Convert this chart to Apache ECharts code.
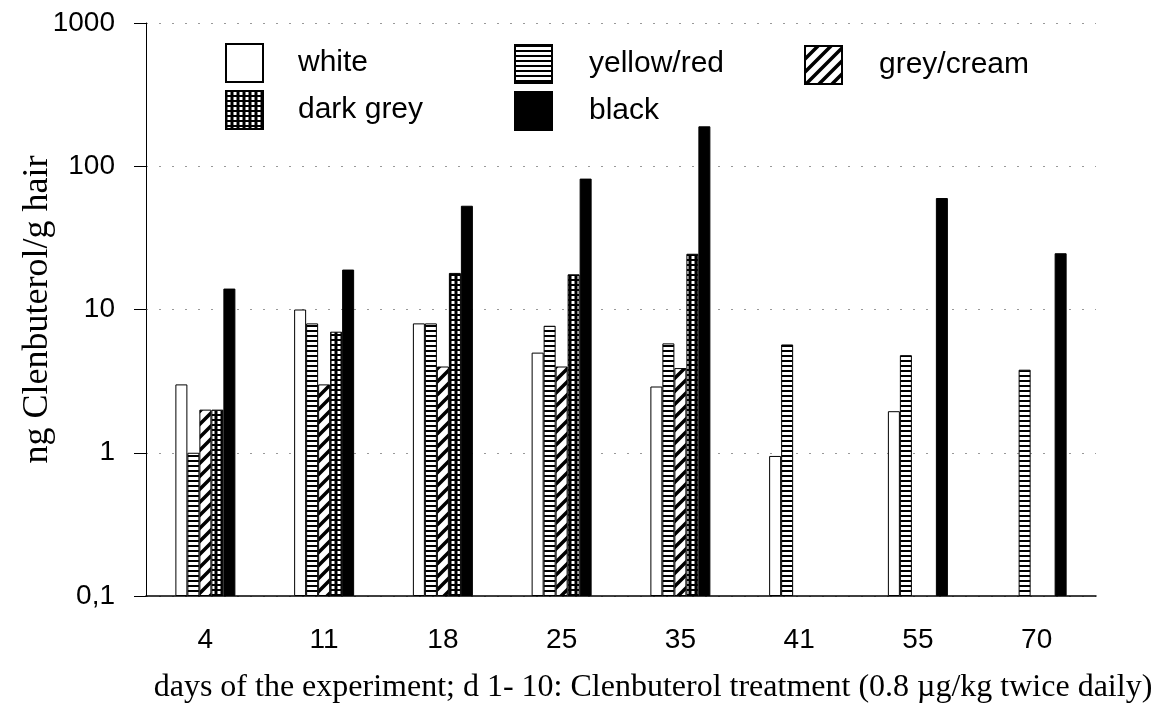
<!DOCTYPE html>
<html>
<head>
<meta charset="utf-8">
<title>Clenbuterol in hair</title>
<script src="https://cdn.jsdelivr.net/npm/echarts@6/dist/echarts.min.js"></script>
<style>
  html, body { margin: 0; padding: 0; background: #fff; }
  #chart { width: 1161px; height: 715px; }
</style>
</head>
<body>
<div id="chart"></div>
<script>
// days of the experiment
const days = ['4', '11', '18', '25', '35', '41', '55', '70'];
// ng Clenbuterol / g hair, per hair colour (null = no bar)
const white = [3, 10, 8, 5, 2.9, 0.95, 1.95, null];
const yellowRed = [1, 8, 8, 7.7, 5.8, 5.7, 4.8, 3.8];
const greyCream = [2, 3, 4, 4, 3.9, null, null, null];
const darkGrey = [2, 7, 18, 17.6, 24.5, null, null, null];
const black = [14, 19, 53, 82, 190, null, 60, 24.7];
const yTicks = [0.1, 1, 10, 100, 1000];

function makePattern(w, h, draw) {
  const c = document.createElement('canvas');
  c.width = w;
  c.height = h;
  const ctx = c.getContext('2d');
  ctx.fillStyle = '#fff';
  ctx.fillRect(0, 0, w, h);
  draw(ctx);
  return { image: c, repeat: 'repeat' };
}

// horizontal stripes
const stripes = makePattern(8, 5, ctx => {
  ctx.fillStyle = '#000';
  ctx.fillRect(0, 0, 8, 2);
});
// "/" hatching
const hatch = makePattern(13, 13, ctx => {
  ctx.strokeStyle = '#000';
  ctx.lineWidth = 3.5;
  ctx.beginPath();
  ctx.moveTo(-2, 15); ctx.lineTo(15, -2);
  ctx.moveTo(-2, 2); ctx.lineTo(2, -2);
  ctx.moveTo(11, 15); ctx.lineTo(15, 11);
  ctx.stroke();
});
// black grid with small white cells
const grid = makePattern(6, 5, ctx => {
  ctx.fillStyle = '#000';
  ctx.fillRect(0, 0, 6, 5);
  ctx.fillStyle = '#fff';
  ctx.fillRect(1.5, 1, 3, 3);
});

const names = ['white', 'yellow/red', 'grey/cream', 'dark grey', 'black'];
const values = [white, yellowRed, greyCream, darkGrey, black];
const fills = ['#fff', stripes, hatch, grid, '#000'];

const chart = echarts.init(document.getElementById('chart'));

const legendPos = [
  { left: 225, top: 43 },
  { left: 514, top: 44 },
  { left: 804, top: 45 },
  { left: 225, top: 90 },
  { left: 514, top: 91 }
];
const textPad = [30, 32, 32, 30, 32];

const legends = names.map((n, i) => ({
  data: [n],
  left: legendPos[i].left,
  top: legendPos[i].top,
  padding: 0,
  orient: 'horizontal',
  itemWidth: 37,
  itemHeight: 38,
  icon: 'rect',
  selectedMode: false,
  textStyle: {
    fontFamily: 'Liberation Sans, Arial, sans-serif',
    fontSize: 30,
    color: '#000',
    padding: [0, 0, 0, textPad[i]]
  }
}));

const series = names.map((n, i) => ({
  name: n,
  type: 'bar',
  barWidth: 12,
  barGap: '0%',
  data: values[i],
  itemStyle: {
    color: fills[i],
    borderColor: '#000',
    borderWidth: 1
  },
  emphasis: { disabled: true }
}));

chart.setOption({
  animation: false,
  backgroundColor: '#fff',
  legend: legends,
  grid: { left: 146, top: 23, right: 65, bottom: 119, outerBoundsMode: 'none' },
  xAxis: {
    type: 'category',
    data: days,
    name: 'days of the experiment; d 1- 10: Clenbuterol treatment (0.8 µg/kg twice daily)',
    nameLocation: 'middle',
    nameGap: 76,
    nameTextStyle: {
      fontFamily: 'Liberation Serif, Times New Roman, serif',
      fontSize: 32,
      color: '#000',
      padding: [0, 0, 0, 64]
    },
    axisLine: { lineStyle: { color: '#000', width: 1.5 } },
    axisTick: { alignWithLabel: true, length: 13, lineStyle: { color: '#000' } },
    axisLabel: {
      margin: 30,
      fontFamily: 'Liberation Sans, Arial, sans-serif',
      fontSize: 28,
      color: '#000'
    },
    splitLine: { show: false }
  },
  yAxis: {
    type: 'log',
    logBase: 10,
    min: yTicks[0],
    max: yTicks[yTicks.length - 1],
    startValue: yTicks[0],
    name: 'ng Clenbuterol/g hair',
    nameLocation: 'middle',
    nameGap: 90,
    nameMoveOverlap: false,
    nameTextStyle: {
      fontFamily: 'Liberation Serif, Times New Roman, serif',
      fontSize: 36,
      color: '#000'
    },
    axisLine: { show: true, lineStyle: { color: '#000', width: 1 } },
    axisTick: { show: true, length: 12, lineStyle: { color: '#000' } },
    minorTick: { show: false },
    axisLabel: {
      margin: 31,
      fontFamily: 'Liberation Sans, Arial, sans-serif',
      fontSize: 28,
      color: '#000',
      formatter: v => (v < 1 ? v.toFixed(1).replace('.', ',') : String(Math.round(v)))
    },
    splitLine: {
      show: true,
      lineStyle: { color: '#999', type: [2, 11], width: 1 }
    }
  },
  series: series
});
</script>
</body>
</html>
